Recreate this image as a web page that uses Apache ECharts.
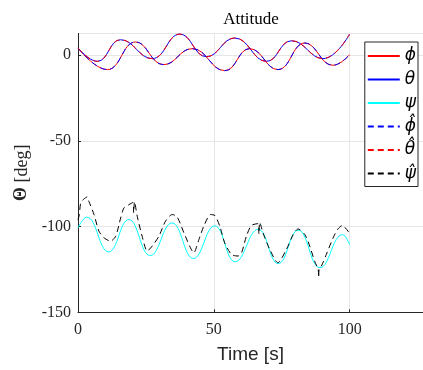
<!DOCTYPE html>
<html>
<head>
<meta charset="utf-8">
<script src="https://cdn.jsdelivr.net/npm/echarts@6/dist/echarts.min.js"></script>
<style>html,body{margin:0;padding:0;background:#fff;}#c{width:423px;height:370px;}</style>
</head>
<body>
<div id="c"></div>
<script>
// ---- data ----
const xTicks = [0, 50, 100];
const yTicks = [-150, -100, -50, 0];

const phiT = [0, 10.8, 21.2, 31.6, 42, 54, 63.2, 73.6, 83.5, 93.9, 100];
const phiV = [4.1, -8.5, 7.6, -5.6, 3.7, -9.1, 3.7, -8.5, 7, -6, 0.2];

const thetaT = [0, 7.1, 15.7, 27.3, 37.5, 47.3, 57.7, 69.4, 78.6, 90.2, 100];
const thetaV = [4.1, -3.7, 8.9, -2.1, 12.2, -1, 9.9, -3.7, 8.3, -2.1, 12.2];

const psiT = [0, 3.2, 11.3, 18.7, 26.6, 34.6, 42.5, 50.3, 57.9, 66.3, 73.7, 81.1, 89.1, 97.4, 100];
const psiV = [-100.8, -94.5, -114.8, -95.9, -116.9, -97.9, -118.6, -99.6, -120.5, -101.6, -121.6, -102.1, -124, -104.7, -110.5];

const psiHatT = [0, 0.5, 1, 2.2, 3.4, 4, 5.9, 7.7, 9.6, 12, 13.9, 15.7, 16.9, 18.8, 20.2, 20.5, 20.8, 21.8, 23.6, 25.5, 27.3, 29.8, 32.2, 34.7, 36.5, 39, 41.4, 42.6, 44.5, 46.3, 48.8, 50.4, 52.2, 54, 56.5, 58.9, 60.2, 62, 63.8, 66.3, 66.6, 66.9, 68.1, 70.6, 73.6, 76.7, 79.2, 81, 83.5, 85.3, 87.1, 88.4, 88.6, 88.8, 89.6, 91.4, 93.9, 95.7, 97.3, 99.4, 100];
const psiHatV = [-96, -93, -86.2, -83.9, -82.7, -85.3, -93, -102.7, -106.6, -108.5, -105.6, -95, -89.2, -87.2, -86, -92, -85.5, -94, -105.6, -114.3, -111.4, -105.6, -96.9, -93, -94.4, -103.7, -112.4, -115.3, -107.6, -99.8, -93, -93.6, -99.8, -109.5, -116.3, -117.2, -115.3, -105.6, -99.4, -98.3, -104.5, -97.5, -103.7, -113.4, -121.1, -113.4, -104.7, -101.4, -104.7, -111.4, -120.2, -125, -129.8, -124, -123, -116.3, -106.6, -101.4, -99.4, -102.7, -104.7];

const legendNames = ['\u03D5', '\u03B8', '\u03C8', '\u03D5\u0302', '\u03B8\u0302', '\u03C8\u0302'];
const seriesColors = ['#ff0000', '#0000ff', '#00ffff', '#0000ff', '#ff0000', '#000000'];

function pairs(t, v) { return t.map((x, i) => [x, v[i]]); }

const sets = [
  [phiT, phiV, 'solid'],
  [thetaT, thetaV, 'solid'],
  [psiT, psiV, 'solid'],
  [phiT, phiV, 'dashed'],
  [thetaT, thetaV, 'dashed'],
  [psiHatT, psiHatV, 'dashed']
];

const chart = echarts.init(document.getElementById('c'), null, {renderer: 'canvas'});
const axisColor = '#262626';
const legendFont = '"DejaVu Sans", sans-serif';

chart.setOption({
  animation: false,
  backgroundColor: '#ffffff',
  title: {
    text: 'Attitude',
    left: 246, top: 6, textAlign: 'center',
    textStyle: {fontFamily: '"Liberation Serif", serif', fontSize: 17, fontWeight: 'normal', color: '#000'}
  },
  grid: {left: 78, right: 0, top: 33.4, bottom: 57.7, containLabel: false},
  xAxis: {
    type: 'value', min: 0, max: 127, interval: 50,
    name: 'Time [s]', nameLocation: 'middle', nameGap: 33,
    nameTextStyle: {fontFamily: '"Liberation Sans", Arial, sans-serif', fontSize: 19, color: axisColor},
    axisLine: {onZero: false, lineStyle: {color: axisColor, width: 1}},
    axisTick: {show: true, inside: true, length: 3, lineStyle: {color: axisColor}},
    axisLabel: {fontFamily: '"Liberation Serif", serif', fontSize: 16, color: axisColor, margin: 9, showMaxLabel: false,
      formatter: v => xTicks.includes(v) ? String(v) : ''},
    splitLine: {show: true, lineStyle: {color: '#e6e6e6', width: 1}}
  },
  yAxis: {
    type: 'value', min: -150, max: 12.6, interval: 50,
    name: '{b|\u0398} [deg]', nameLocation: 'middle', nameGap: 45, nameRotate: 90,
    nameTextStyle: {fontFamily: '"Liberation Serif", serif', fontSize: 18, color: axisColor,
      rich: {b: {fontFamily: '"Liberation Serif", serif', fontSize: 18, fontWeight: 'bold', color: axisColor}}},
    axisLine: {show: true, onZero: false, lineStyle: {color: axisColor, width: 1}},
    axisTick: {show: true, inside: true, length: 3, lineStyle: {color: axisColor}},
    axisLabel: {fontFamily: '"Liberation Serif", serif', fontSize: 16, color: axisColor, margin: 7, showMaxLabel: false,
      formatter: v => yTicks.includes(v) ? String(v) : ''},
    splitLine: {show: true, lineStyle: {color: '#e6e6e6', width: 1}}
  },
  legend: {
    orient: 'vertical', right: 5, top: 42,
    backgroundColor: '#fff', borderColor: '#262626', borderWidth: 1, borderRadius: 0,
    padding: [4, 2, 3, 2], itemGap: 3.5, itemWidth: 32, itemHeight: 14,
    icon: 'inherit',
    itemStyle: {opacity: 0},
    textStyle: {fontFamily: legendFont, fontStyle: 'italic', fontSize: 17, lineHeight: 20, color: '#000'},
    data: legendNames
  },
  series: sets.map((s, i) => ({
    name: legendNames[i], type: 'line', data: pairs(s[0], s[1]),
    smooth: i === 5 ? 0.25 : 0.45, symbol: 'none', z: 2 + i,
    lineStyle: {color: seriesColors[i], width: 1, type: s[2] === 'dashed' ? [6, 4] : 'solid'},
    itemStyle: {color: seriesColors[i]}
  }))
});
</script>
</body>
</html>
